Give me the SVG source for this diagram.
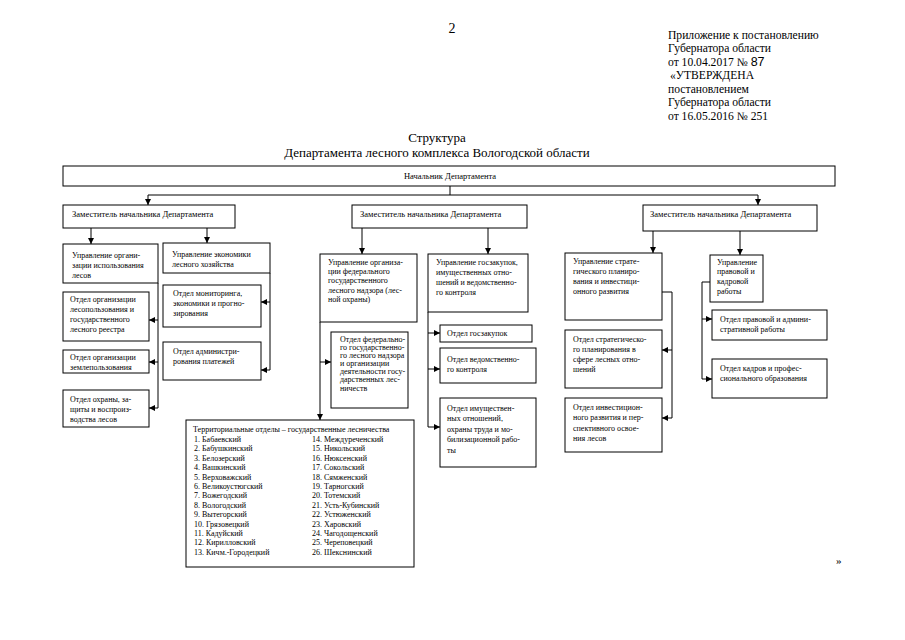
<svg xmlns="http://www.w3.org/2000/svg" width="905" height="640" viewBox="0 0 905 640">
<defs>
<marker id="ar" viewBox="0 0 10 10" refX="10" refY="5" markerWidth="6" markerHeight="6" markerUnits="userSpaceOnUse" orient="auto">
<path d="M0,0 L10,5 L0,10 Z" fill="#000"/>
</marker>
<style>
.b{fill:#fff;stroke:#000;stroke-width:1}
.t{font-family:"Liberation Serif","DejaVu Serif",serif;font-size:8px;fill:#000}
.d{font-family:"Liberation Serif","DejaVu Serif",serif;font-size:8.5px;fill:#000}
.h{font-family:"Liberation Serif","DejaVu Serif",serif;font-size:11.6px;fill:#000}
.c{fill:none;stroke:#000;stroke-width:1}
.a{fill:none;stroke:#000;stroke-width:1;marker-end:url(#ar)}
</style>
</defs>
<rect width="905" height="640" fill="#fff"/>

<g id="header">
<text x="452" y="33" font-family="Liberation Serif, serif" font-size="14" text-anchor="middle">2</text>
<text class="h" x="668" y="39">Приложение к постановлению</text>
<text class="h" x="668" y="52">Губернатора области</text>
<text class="h" x="668" y="65.5">от 10.04.2017 № <tspan font-family="Liberation Sans, sans-serif" font-size="12.5">87</tspan></text>
<text class="h" x="670" y="79">«УТВЕРЖДЕНА</text>
<text class="h" x="668" y="93">постановлением</text>
<text class="h" x="668" y="106">Губернатора области</text>
<text class="h" x="668" y="120">от 16.05.2016 № 251</text>
<text x="437" y="142" font-family="Liberation Serif, serif" font-size="13" text-anchor="middle">Структура</text>
<text x="437" y="157" font-family="Liberation Serif, serif" font-size="13" text-anchor="middle">Департамента лесного комплекса Вологодской области</text>
<text x="836" y="564" font-family="Liberation Serif, serif" font-size="11">»</text>
</g>

<g id="connectors">
<path class="c" d="M450,186 V195 M148,195 H758"/>
<path class="a" d="M148,195 V205"/>
<path class="a" d="M758,195 V205"/>
<path class="a" d="M91,228 V244"/>
<path class="a" d="M207,228 V243"/>
<path class="c" d="M158,283 V408"/>
<path class="a" d="M158,320 H149"/>
<path class="a" d="M158,362 H149"/>
<path class="a" d="M158,408 H149"/>
<path class="c" d="M270,273 V370"/>
<path class="a" d="M270,302 H261"/>
<path class="a" d="M270,370 H261"/>
<path class="a" d="M362,228 V254"/>
<path class="a" d="M488,228 V254"/>
<path class="a" d="M320,322 V420"/>
<path class="a" d="M320,362 H331"/>
<path class="c" d="M428,312 V427"/>
<path class="a" d="M428,333 H440"/>
<path class="a" d="M428,369 H440"/>
<path class="a" d="M428,427 H440"/>
<path class="a" d="M653,231 V253"/>
<path class="a" d="M740,231 V255"/>
<path class="c" d="M662,292 H672 V418"/>
<path class="a" d="M672,350 H662"/>
<path class="a" d="M672,418 H662"/>
<path class="c" d="M710,282 H702 V379"/>
<path class="a" d="M702,319 H712"/>
<path class="a" d="M702,379 H712"/>
</g>

<g id="head">
<rect class="b" x="63" y="166" width="772" height="20"/>
<text class="d" x="450" y="179" text-anchor="middle">Начальник Департамента</text>
</g>

<g id="dep1">
<rect class="b" x="63" y="205" width="172" height="23"/>
<text class="d" x="72" y="217">Заместитель начальника Департамента</text>
</g>
<g id="dep2">
<rect class="b" x="352" y="205" width="175" height="23"/>
<text class="d" x="360" y="217">Заместитель начальника Департамента</text>
</g>
<g id="dep3">
<rect class="b" x="643" y="205" width="174" height="26"/>
<text class="d" x="650" y="217">Заместитель начальника Департамента</text>
</g>

<g id="upr-les">
<rect class="b" x="63" y="244" width="95" height="39"/>
<text class="t" x="72" y="258">Управление органи-</text>
<text class="t" x="72" y="268">зации использования</text>
<text class="t" x="72" y="278">лесов</text>
</g>
<g id="upr-econ">
<rect class="b" x="163" y="243" width="107" height="30"/>
<text class="t" x="172" y="257">Управление экономики</text>
<text class="t" x="172" y="267">лесного хозяйства</text>
</g>
<g id="otd-lesopolz">
<rect class="b" x="63" y="292" width="86" height="49"/>
<text class="t" x="70" y="302">Отдел организации</text>
<text class="t" x="70" y="312">лесопользования и</text>
<text class="t" x="70" y="322">государственного</text>
<text class="t" x="70" y="332">лесного реестра</text>
</g>
<g id="otd-zemlepolz">
<rect class="b" x="63" y="350" width="86" height="23"/>
<text class="t" x="70" y="360">Отдел организации</text>
<text class="t" x="70" y="370">землепользования</text>
</g>
<g id="otd-ohrana">
<rect class="b" x="63" y="390" width="86" height="37"/>
<text class="t" x="70" y="402">Отдел охраны, за-</text>
<text class="t" x="70" y="412">щиты и воспроиз-</text>
<text class="t" x="70" y="422">водства лесов</text>
</g>
<g id="otd-monitoring">
<rect class="b" x="163" y="285" width="98" height="42"/>
<text class="t" x="173" y="296">Отдел мониторинга,</text>
<text class="t" x="173" y="306">экономики и прогно-</text>
<text class="t" x="173" y="316">зирования</text>
</g>
<g id="otd-platezhi">
<rect class="b" x="163" y="342" width="98" height="38"/>
<text class="t" x="173" y="354">Отдел администри-</text>
<text class="t" x="173" y="364">рования платежей</text>
</g>

<g id="upr-nadzor">
<rect class="b" x="320" y="254" width="97" height="68"/>
<text class="t" x="328" y="265">Управление организа-</text>
<text class="t" x="328" y="274">ции федерального</text>
<text class="t" x="328" y="283">государственного</text>
<text class="t" x="328" y="293">лесного надзора (лес-</text>
<text class="t" x="328" y="302">ной охраны)</text>
</g>
<g id="upr-goszak">
<rect class="b" x="428" y="254" width="100" height="58"/>
<text class="t" x="436" y="265">Управление госзакупок,</text>
<text class="t" x="436" y="275">имущественных отно-</text>
<text class="t" x="436" y="285">шений и ведомственно-</text>
<text class="t" x="436" y="295">го контроля</text>
</g>
<g id="otd-nadzor">
<rect class="b" x="331" y="332" width="77" height="76"/>
<text class="t" x="340" y="342">Отдел федерально-</text>
<text class="t" x="340" y="350">го государственно-</text>
<text class="t" x="340" y="358">го лесного надзора</text>
<text class="t" x="340" y="366">и организации</text>
<text class="t" x="340" y="374">деятельности госу-</text>
<text class="t" x="340" y="382">дарственных лес-</text>
<text class="t" x="340" y="391">ничеств</text>
</g>
<g id="otd-goszak">
<rect class="b" x="440" y="325" width="92" height="17"/>
<text class="t" x="447" y="336">Отдел госзакупок</text>
</g>
<g id="otd-vedom">
<rect class="b" x="440" y="348" width="96" height="35"/>
<text class="t" x="447" y="362">Отдел ведомственно-</text>
<text class="t" x="447" y="372">го контроля</text>
</g>
<g id="otd-imush">
<rect class="b" x="440" y="398" width="96" height="69"/>
<text class="t" x="447" y="411">Отдел имуществен-</text>
<text class="t" x="447" y="421">ных отношений,</text>
<text class="t" x="447" y="432">охраны труда и мо-</text>
<text class="t" x="447" y="442">билизационной рабо-</text>
<text class="t" x="447" y="453">ты</text>
</g>

<g id="territorial">
<rect class="b" x="186" y="420" width="228" height="147"/>
<text class="t" x="193" y="432">Территориальные отделы – государственные лесничества</text>
<g class="t">
<text x="194" y="442">1. Бабаевский</text>
<text x="194" y="451.4">2. Бабушкинский</text>
<text x="194" y="460.8">3. Белозерский</text>
<text x="194" y="470.2">4. Вашкинский</text>
<text x="194" y="479.6">5. Верховажский</text>
<text x="194" y="489">6. Великоустюгский</text>
<text x="194" y="498.4">7. Вожегодский</text>
<text x="194" y="507.8">8. Вологодский</text>
<text x="194" y="517.2">9. Вытегорский</text>
<text x="194" y="526.6">10. Грязовецкий</text>
<text x="194" y="536">11. Кадуйский</text>
<text x="194" y="545.4">12. Кирилловский</text>
<text x="194" y="554.8">13. Кичм.-Городецкий</text>
<text x="312" y="442">14. Междуреченский</text>
<text x="312" y="451.4">15. Никольский</text>
<text x="312" y="460.8">16. Нюксенский</text>
<text x="312" y="470.2">17. Сокольский</text>
<text x="312" y="479.6">18. Сямженский</text>
<text x="312" y="489">19. Тарногский</text>
<text x="312" y="498.4">20. Тотемский</text>
<text x="312" y="507.8">21. Усть-Кубинский</text>
<text x="312" y="517.2">22. Устюженский</text>
<text x="312" y="526.6">23. Харовский</text>
<text x="312" y="536">24. Чагодощенский</text>
<text x="312" y="545.4">25. Череповецкий</text>
<text x="312" y="554.8">26. Шекснинский</text>
</g>
</g>

<g id="upr-strat">
<rect class="b" x="565" y="253" width="97" height="67"/>
<text class="t" x="573" y="264">Управление страте-</text>
<text class="t" x="573" y="274">гического планиро-</text>
<text class="t" x="573" y="284">вания и инвестици-</text>
<text class="t" x="573" y="294">онного развития</text>
</g>
<g id="upr-prav">
<rect class="b" x="710" y="255" width="53" height="47"/>
<text class="t" x="717" y="265">Управление</text>
<text class="t" x="717" y="274">правовой и</text>
<text class="t" x="717" y="284">кадровой</text>
<text class="t" x="717" y="294">работы</text>
</g>
<g id="otd-strat">
<rect class="b" x="565" y="330" width="97" height="58"/>
<text class="t" x="573" y="342">Отдел стратегическо-</text>
<text class="t" x="573" y="352">го планирования в</text>
<text class="t" x="573" y="362">сфере лесных  отно-</text>
<text class="t" x="573" y="372">шений</text>
</g>
<g id="otd-invest">
<rect class="b" x="565" y="398" width="97" height="54"/>
<text class="t" x="573" y="410">Отдел инвестицион-</text>
<text class="t" x="573" y="420">ного развития и пер-</text>
<text class="t" x="573" y="431">спективного освое-</text>
<text class="t" x="573" y="441">ния лесов</text>
</g>
<g id="otd-prav">
<rect class="b" x="712" y="310" width="115" height="30"/>
<text class="t" x="720" y="322">Отдел правовой и админи-</text>
<text class="t" x="720" y="332">стративной работы</text>
</g>
<g id="otd-kadr">
<rect class="b" x="712" y="359" width="115" height="39"/>
<text class="t" x="720" y="371">Отдел кадров и профес-</text>
<text class="t" x="720" y="381">сионального образования</text>
</g>
</svg>
